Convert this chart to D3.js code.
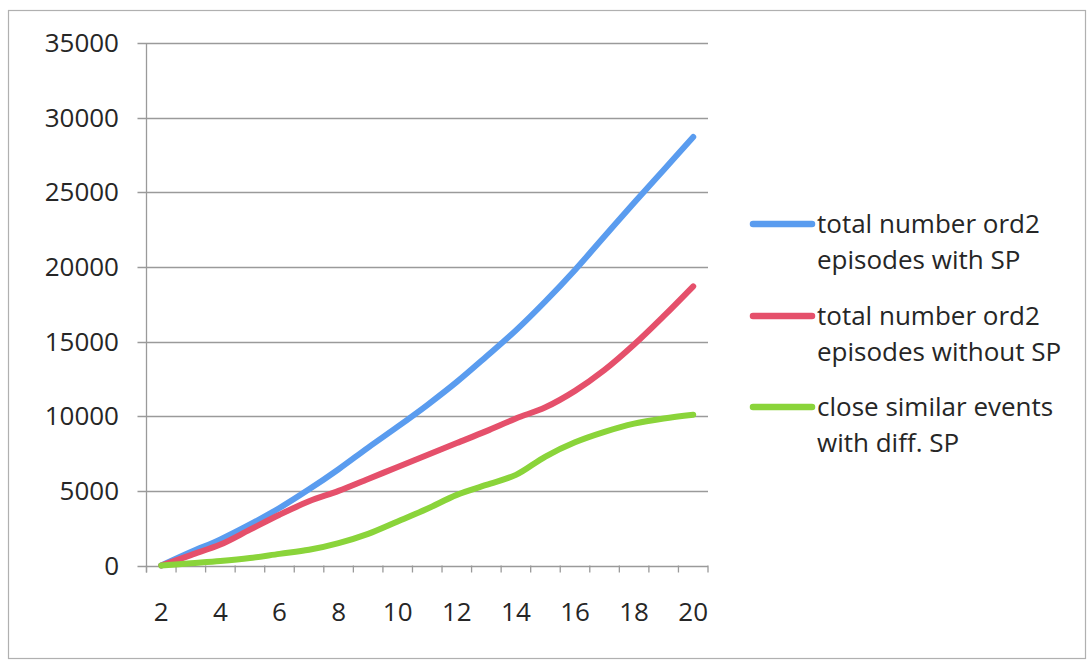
<!DOCTYPE html>
<html>
<head>
<meta charset="utf-8">
<script src="https://cdn.jsdelivr.net/npm/d3@7"></script>
<style>
  html, body { margin: 0; padding: 0; background: #fff; }
  svg text { font-family: "Open Sans", "DejaVu Sans", sans-serif; fill: #262626; }
</style>
</head>
<body>
<svg id="chart" width="1091" height="662"></svg>
<script>
const categories = [2,3,4,5,6,7,8,9,10,11,12,13,14,15,16,17,18,19,20];
const withSP    = [0,900,1750,2750,3850,5100,6450,7900,9300,10750,12300,14000,15750,17700,19800,22050,24300,26500,28700];
const withoutSP = [0,700,1400,2400,3400,4300,5000,5800,6600,7400,8200,9000,9850,10600,11700,13100,14800,16700,18700];
const closeDiff = [0,150,300,500,780,1050,1500,2120,2950,3800,4730,5400,6070,7300,8250,8950,9500,9850,10100];
const yTicks = [0,5000,10000,15000,20000,25000,30000,35000];
const xLabels = [2,4,6,8,10,12,14,16,18,20];
const seriesNames = [
  ["total number ord2", "episodes with SP"],
  ["total number ord2", "episodes without SP"],
  ["close similar events", "with diff. SP"]
];
const seriesValues = [withSP, withoutSP, closeDiff];
const colors = ["#5a9cef", "#e5506b", "#8ad43a"];

const svg = d3.select("#chart");

// outer border
svg.append("rect").attr("x", 8.5).attr("y", 10.5).attr("width", 1077).attr("height", 648)
  .attr("fill", "none").attr("stroke", "#b0b0b0").attr("stroke-width", 1.2);

const plotL = 146.5, plotR = 708, plotT = 43, plotB = 565.5;
const x = d3.scaleBand().domain(categories).range([plotL, plotR]).paddingInner(0).paddingOuter(0);
const cx = d => x(d) + x.bandwidth() / 2;
const y = d3.scaleLinear().domain([0, 35000]).range([plotB, plotT]);

// gridlines
svg.append("g").selectAll("line").data(yTicks).join("line")
  .attr("x1", plotL - 9).attr("x2", plotR)
  .attr("y1", d => Math.round(y(d)) + 0.5).attr("y2", d => Math.round(y(d)) + 0.5)
  .attr("stroke", "#9a9a9a").attr("stroke-width", 1.3);

// y axis line
svg.append("line").attr("x1", plotL).attr("x2", plotL).attr("y1", plotT).attr("y2", plotB + 7)
  .attr("stroke", "#9a9a9a").attr("stroke-width", 1.3);

// x tick marks at category boundaries
const bounds = categories.map(c => x(c)).concat([x(categories[categories.length - 1]) + x.bandwidth()]);
svg.append("g").selectAll("line").data(bounds).join("line")
  .attr("x1", d => d).attr("x2", d => d)
  .attr("y1", plotB).attr("y2", plotB + 7)
  .attr("stroke", "#9a9a9a").attr("stroke-width", 1.3);

// y labels
svg.append("g").selectAll("text").data(yTicks).join("text")
  .attr("x", 119).attr("y", d => y(d)).attr("dy", "0.35em")
  .attr("text-anchor", "end").attr("font-size", 26)
  .text(d => d);

// x labels
svg.append("g").selectAll("text").data(xLabels).join("text")
  .attr("x", d => cx(d)).attr("y", 621)
  .attr("text-anchor", "middle").attr("font-size", 26)
  .text(d => d);

// lines
const line = d3.line().x((d, i) => cx(categories[i])).y(d => y(d)).curve(d3.curveCatmullRom.alpha(0.5));
seriesValues.forEach((vals, i) => {
  svg.append("path").datum(vals).attr("d", line)
    .attr("fill", "none").attr("stroke", colors[i]).attr("stroke-width", 6)
    .attr("stroke-linecap", "round").attr("stroke-linejoin", "round");
});

// legend
const legY = [224, 316, 407];
seriesNames.forEach((lines, i) => {
  svg.append("line").attr("x1", 753).attr("x2", 812).attr("y1", legY[i]).attr("y2", legY[i])
    .attr("stroke", colors[i]).attr("stroke-width", 6.5).attr("stroke-linecap", "round");
  lines.forEach((t, j) => {
    svg.append("text").attr("x", 817).attr("y", legY[i] + 9 + j * 36)
      .attr("font-size", 26).text(t);
  });
});
</script>
</body>
</html>
